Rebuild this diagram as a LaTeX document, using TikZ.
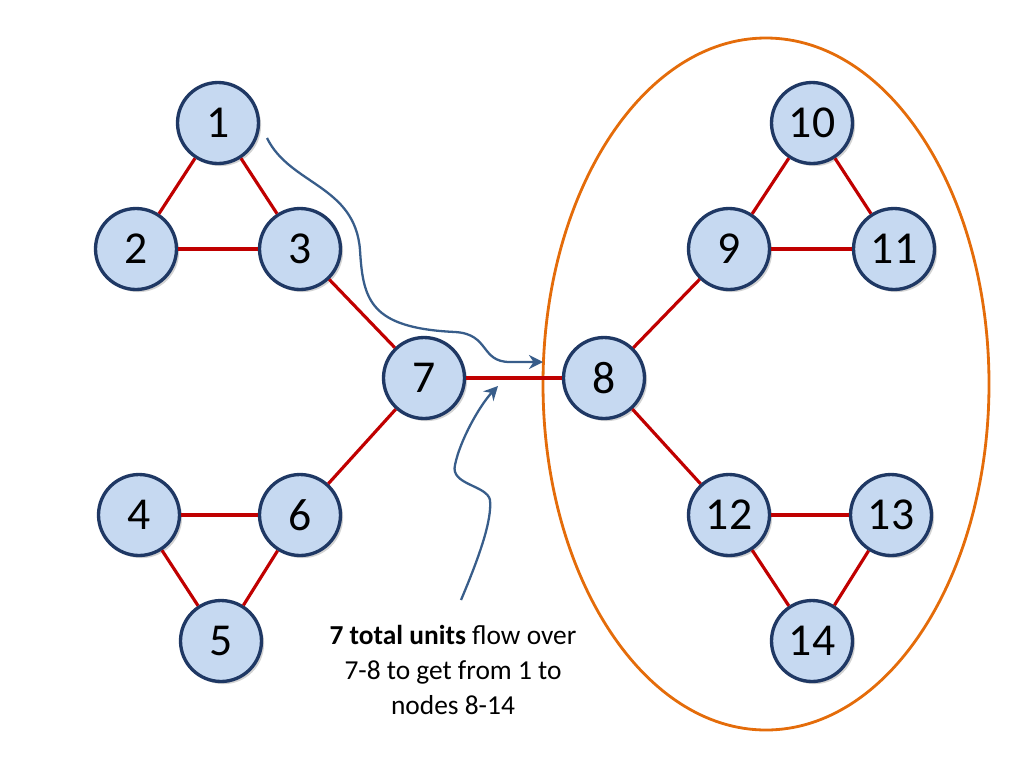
\documentclass[tikz,border=0pt]{standalone}
\usepackage{fontspec}
\setmainfont{Carlito}
\usetikzlibrary{arrows.meta,shadows}

\definecolor{nodefill}{RGB}{198,217,241}
\definecolor{nodeline}{RGB}{31,56,100}
\definecolor{linkred}{RGB}{192,0,0}
\definecolor{ringorange}{RGB}{228,108,10}
\definecolor{flowblue}{RGB}{56,93,138}

\tikzset{
  vert/.style={circle,draw=nodeline,fill=nodefill,line width=1.9pt,
    minimum size=1.62cm,inner sep=0pt,font=\fontsize{26}{30}\selectfont,
    drop shadow={shadow xshift=1.5pt,shadow yshift=-1.5pt,opacity=.35}},
  link/.style={draw=linkred,line width=1.8pt},
  flow/.style={draw=flowblue,line width=1.3pt,-{Stealth[length=8pt,width=8pt]}},
  note/.style={align=center,font=\fontsize{15.6}{19.8}\selectfont}
}

\begin{document}
\begin{tikzpicture}[x=0.02cm,y=-0.02cm]
    \useasboundingbox (0,0) rectangle (1024,768);
    % ring round the right half
    \draw[ringorange,line width=1.6pt] (766,384) ellipse [x radius=223, y radius=346];
    % left half
    \node[vert] (n1) at (218,123) {1};
    \node[vert] (n2) at (136,249) {2};
    \node[vert] (n3) at (300,249) {3};
    \node[vert] (n7) at (424,378) {7};
    \node[vert] (n4) at (139,515) {4};
    \node[vert] (n6) at (300,515) {6};
    \node[vert] (n5) at (221,641) {5};
    % right half
    \node[vert] (n8) at (604,378) {8};
    \node[vert] (n9) at (729,249) {9};
    \node[vert] (n10) at (812,123) {10};
    \node[vert] (n11) at (894,249) {11};
    \node[vert] (n12) at (729,515) {12};
    \node[vert] (n13) at (891,515) {13};
    \node[vert] (n14) at (812,641) {14};
    \foreach \a/\b in {n1/n2,n1/n3,n2/n3,n3/n7,n7/n6,n4/n6,n4/n5,n5/n6,n7/n8,
                       n8/n9,n9/n10,n9/n11,n10/n11,n8/n12,n12/n13,n12/n14,n13/n14}
      \draw[link] (\a) -- (\b);
    % caption and flow arrows
    \node[note] (note) at (453,670) {\textbf{7 total units} flow over\\7-8 to get from 1 to\\nodes 8-14};
    \coordinate (fromone) at (267,138);
    \coordinate (intoring) at (543,362);
    \coordinate (fromnote) at (461,600);
    \coordinate (ontolink) at (498,386);
    \draw[flow] (fromone) .. controls (290,185) and (355,185) .. (360,250)
      .. controls (363,300) and (370,328) .. (455,332)
      .. controls (490,334) and (480,362) .. (510,362) -- (intoring);
    \draw[flow] (fromnote) .. controls (480,555) and (492,520) .. (490,500)
      .. controls (487,485) and (450,485) .. (455,465)
      .. controls (460,440) and (480,405) .. (ontolink);
\end{tikzpicture}
\end{document}
